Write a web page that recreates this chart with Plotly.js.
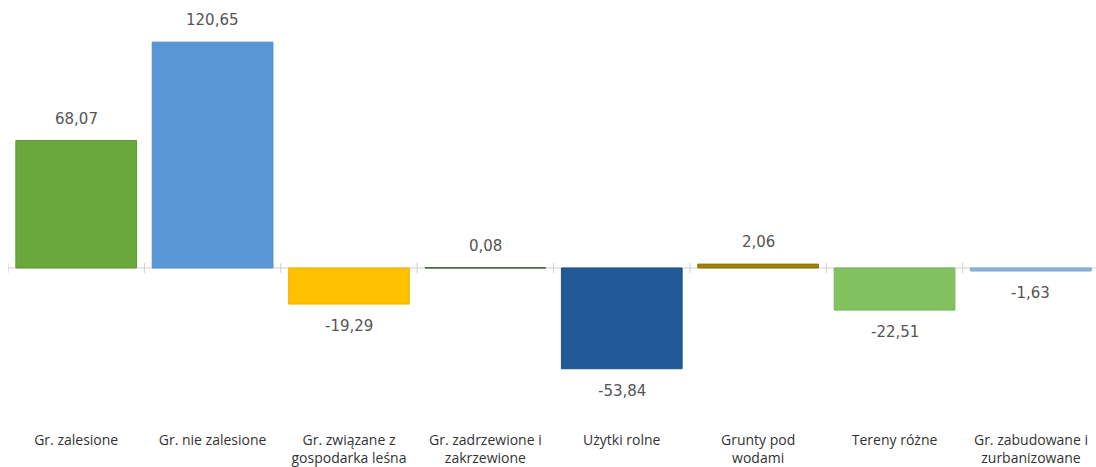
<!DOCTYPE html>
<html>
<head>
<meta charset="utf-8">
<script src="https://cdn.plot.ly/plotly-3.0.1.min.js"></script>
<style>html,body{margin:0;padding:0;background:#fff;}#chart{width:1096px;height:467px;}</style>
</head>
<body>
<div id="chart"></div>
<script>
const categories = [
  "Gr. zalesione",
  "Gr. nie zalesione",
  "Gr. związane z<br>gospodarka leśna",
  "Gr. zadrzewione i<br>zakrzewione",
  "Użytki rolne",
  "Grunty pod<br>wodami",
  "Tereny różne",
  "Gr. zabudowane i<br>zurbanizowane"
];
const values = [68.07, 120.65, -19.29, 0.08, -53.84, 2.06, -22.51, -1.63];
const barColors = ["#69a83a", "#5997d6", "#ffc000", "#2f5f2a", "#215a97", "#a08000", "#82c160", "#8ab2d8"];
const lineColors = ["#5f9a33", "#4f8cc9", "#f0b400", "#2f5f2a", "#1d5088", "#8f7200", "#76b555", "#7fa8d0"];

const idx = categories.map((c, i) => i);

const trace = {
  type: "bar",
  x: idx,
  y: values,
  marker: { color: barColors, line: { color: lineColors, width: 1 } },
  hoverinfo: "skip",
  showlegend: false
};

const fmt = v => v.toFixed(2).replace(".", ",");
const annotations = values.map((v, i) => ({
  x: i, y: v, xref: "x", yref: "y",
  text: fmt(v), showarrow: false,
  yshift: v >= 0 ? 22 : -22,
  yanchor: "middle",
  font: { family: "DejaVu Sans, Verdana, sans-serif", size: 15, color: "#555555" }
}));

const shapes = [{
  type: "line", xref: "x", yref: "y",
  x0: -0.5, x1: categories.length - 0.5, y0: 0, y1: 0,
  line: { color: "#d0d0d0", width: 1 }, layer: "below"
}];
for (let i = 0; i <= categories.length; i++) {
  shapes.push({
    type: "line", xref: "x", yref: "y", ysizemode: "pixel", yanchor: 0,
    x0: i - 0.5, x1: i - 0.5, y0: -5, y1: 5,
    line: { color: "#d0d0d0", width: 1 }, layer: "below"
  });
}

const layout = {
  width: 1096, height: 467,
  margin: { l: 8, r: 0, t: 34, b: 68 },
  paper_bgcolor: "#ffffff", plot_bgcolor: "#ffffff",
  bargap: 0.115,
  separators: ", ",
  xaxis: {
    range: [-0.5, 7.477],
    tickmode: "array", tickvals: idx, ticktext: categories,
    showgrid: false, zeroline: false, showline: false,
    ticks: "", ticklabelstandoff: 31,
    tickfont: { family: "Open Sans, sans-serif", size: 14, color: "#333333" },
    fixedrange: true
  },
  yaxis: {
    range: [-70, 125],
    visible: false, showgrid: false, zeroline: false,
    fixedrange: true
  },
  annotations: annotations,
  shapes: shapes
};

Plotly.newPlot("chart", [trace], layout, { displayModeBar: false, staticPlot: true });
</script>
</body>
</html>
